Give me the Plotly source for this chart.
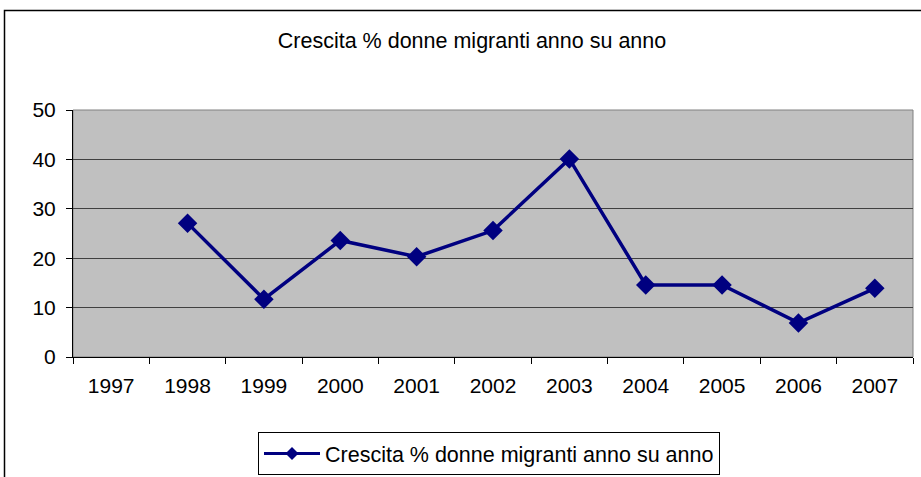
import plotly.graph_objects as go

years = ["1997", "1998", "1999", "2000", "2001", "2002", "2003", "2004", "2005", "2006", "2007"]
growth = [None, 27.1, 11.7, 23.6, 20.3, 25.6, 40.1, 14.6, 14.6, 6.9, 13.9]
series_name = "Crescita % donne migranti anno su anno"

W, H = 921, 477
L, R, T, B = 73, 8, 110, 120
pw, ph = W - L - R, H - T - B

fig = go.Figure()
fig.add_trace(go.Scatter(
    x=years, y=growth, mode="lines+markers", name=series_name, showlegend=False,
    line=dict(color="#000080", width=3.5),
    marker=dict(symbol="diamond", size=15, color="#000080"),
))
# legend entry only (smaller diamond, like the Excel legend key)
fig.add_trace(go.Scatter(
    x=[years[0]], y=[None], mode="lines+markers", name=series_name,
    line=dict(color="#000080", width=3),
    marker=dict(symbol="diamond", size=10, color="#000080"),
))

fig.update_layout(
    width=W, height=H,
    margin=dict(l=L, r=R, t=T, b=B, autoexpand=False),
    paper_bgcolor="white", plot_bgcolor="#C0C0C0",
    font=dict(family="Liberation Sans, Arial, sans-serif", size=21, color="black"),
    title=dict(text=series_name, xref="container", x=472 / W, xanchor="center",
               yref="container", y=1 - 40 / H, yanchor="middle", font=dict(size=21.5)),
    showlegend=True,
    legend=dict(x=(258 - L) / pw, xanchor="left", y=(H - B - 432) / ph, yanchor="top",
                itemwidth=56, bordercolor="black", borderwidth=1, bgcolor="white",
                font=dict(size=21.5)),
    xaxis=dict(type="category", range=[-0.5, 10.5], tickson="boundaries",
               ticks="outside", ticklen=6, tickcolor="black", showgrid=False,
               showline=True, linecolor="black", linewidth=1, ticklabelstandoff=10,
               tickangle=0),
    yaxis=dict(range=[0, 50], dtick=10, ticks="outside", ticklen=6, tickcolor="black",
               showgrid=True, gridcolor="#404040", gridwidth=1, zeroline=False,
               showline=True, linecolor="black", linewidth=1, ticklabelstandoff=6),
    shapes=[
        dict(type="rect", xref="paper", yref="paper", x0=0, x1=1, y0=0, y1=1,
             line=dict(color="#808080", width=1), layer="below"),
        dict(type="rect", xref="paper", yref="paper",
             x0=(4.5 - L) / pw, x1=(W + 10 - L) / pw, y0=(H - B - H - 10) / ph, y1=(H - B - 10.5) / ph,
             line=dict(color="black", width=1.5), layer="above"),
    ],
)

fig.write_html("out.html", config={"displayModeBar": False},
               post_script="document.body.style.margin = '0';")
